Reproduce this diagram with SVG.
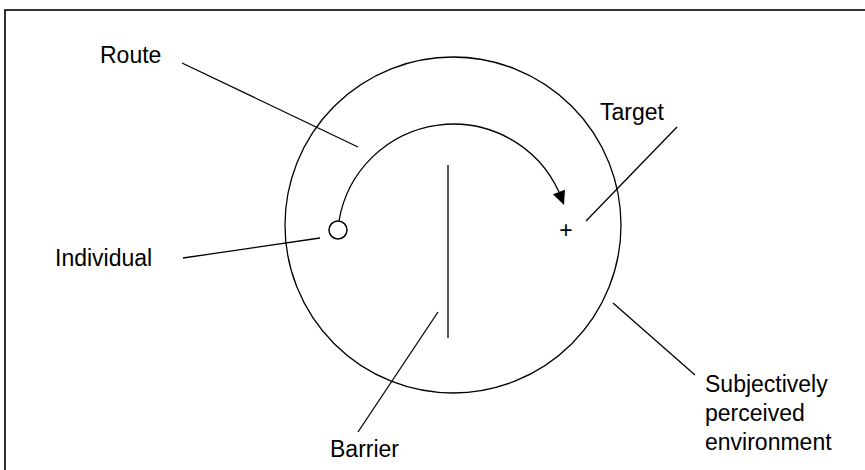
<svg xmlns="http://www.w3.org/2000/svg" width="865" height="470" viewBox="0 0 865 470">
<style>
  .ln { stroke: #000; stroke-width: 1.3; fill: none; }
  .lbl { font-family: "Liberation Sans", Arial, sans-serif; font-size: 23px; fill: #000; }
</style>
<rect x="0" y="0" width="865" height="470" fill="#fff"/>
<rect x="5" y="10" width="880" height="480" fill="none" stroke="#000" stroke-width="1.6"/>
<g id="environment">
  <circle class="ln" cx="453" cy="225" r="168" stroke-width="1.5"/>
</g>
<g id="individual">
  <circle cx="338" cy="230" r="9" fill="#fff" stroke="#000" stroke-width="1.5"/>
</g>
<g id="barrier">
  <line class="ln" x1="448" y1="165" x2="448" y2="338" stroke-width="1.5"/>
</g>
<g id="target">
  <text class="lbl" x="566" y="238" text-anchor="middle">+</text>
</g>
<g id="route">
  <path class="ln" d="M 339 221 A 116 116 0 0 1 559 192" stroke-width="1.5"/>
  <polygon points="564,205 552.9,194.3 565,189.7" fill="#000"/>
</g>
<g id="connectors">
  <line class="ln" x1="182" y1="63" x2="358" y2="147"/>
  <line class="ln" x1="183" y1="258" x2="320" y2="238"/>
  <line class="ln" x1="438" y1="312" x2="358" y2="432"/>
  <line class="ln" x1="613" y1="303" x2="695" y2="375"/>
  <line class="ln" x1="586" y1="221" x2="677" y2="127"/>
</g>
<g id="labels">
  <text class="lbl" x="100" y="63">Route</text>
  <text class="lbl" x="55" y="266">Individual</text>
  <text class="lbl" x="330" y="457">Barrier</text>
  <text class="lbl" x="600" y="120">Target</text>
  <text class="lbl" x="705" y="392">Subjectively</text>
  <text class="lbl" x="705" y="421">perceived</text>
  <text class="lbl" x="705" y="450">environment</text>
</g>
</svg>
